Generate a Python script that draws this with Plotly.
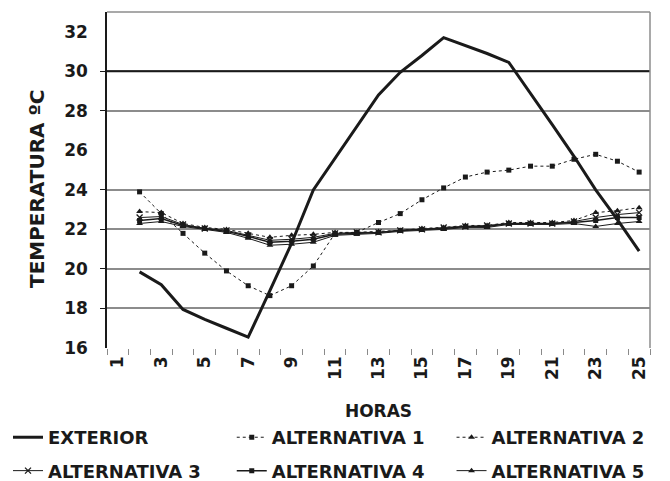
import plotly.graph_objects as go

# ---- data ----
HOURS = list(range(1, 26))
X_TICK_VALUES = list(range(1, 26, 2))
X_TICK_LABELS = [str(h) for h in X_TICK_VALUES]
Y_TICKS = list(range(16, 33, 2))
GRID_Y = [18, 20, 22, 24, 28]
LIMIT_Y = 30

EXTERIOR = [None, 19.85, 19.2, 17.95, 17.45, 17.0, 16.55, 18.9, 21.3, 24.0, 25.6, 27.25,
            28.8, 29.95, 30.8, 31.7, 31.3, 30.9, 30.45, 28.9, 27.3, 25.7, 24.0, 22.5, 20.9]
ALT1 = [None, 23.9, 22.8, 21.8, 20.8, 19.9, 19.15, 18.65, 19.15, 20.15, 21.8, 21.85,
        22.35, 22.8, 23.5, 24.1, 24.65, 24.9, 25.0, 25.2, 25.2, 25.55, 25.8, 25.45, 24.9]
ALT2 = [None, 22.9, 22.85, 22.3, 22.1, 22.0, 21.8, 21.6, 21.7, 21.75, 21.85, 21.85,
        21.9, 21.95, 22.05, 22.1, 22.2, 22.2, 22.35, 22.35, 22.35, 22.45, 22.85, 22.95, 23.1]
ALT3 = [None, 22.6, 22.65, 22.25, 22.05, 21.95, 21.7, 21.45, 21.5, 21.6, 21.8, 21.85,
        21.85, 21.95, 22.0, 22.1, 22.15, 22.2, 22.3, 22.3, 22.3, 22.4, 22.6, 22.75, 22.85]
ALT4 = [None, 22.45, 22.55, 22.2, 22.05, 21.9, 21.65, 21.35, 21.4, 21.5, 21.75, 21.8,
        21.85, 21.95, 22.0, 22.05, 22.15, 22.15, 22.3, 22.3, 22.3, 22.35, 22.45, 22.6, 22.6]
ALT5 = [None, 22.3, 22.4, 22.15, 22.0, 21.85, 21.55, 21.2, 21.25, 21.35, 21.7, 21.75,
        21.8, 21.9, 21.95, 22.0, 22.1, 22.1, 22.25, 22.25, 22.25, 22.3, 22.15, 22.3, 22.4]

Y_TITLE = "TEMPERATURA ºC"
X_TITLE = "HORAS"

FONT = "DejaVu Sans"
INK = "#1a1a1a"

fig = go.Figure()

# name, values, line, marker, legend column, rank
alt_styles = [
    ("ALTERNATIVA 1", ALT1, dict(color=INK, width=1, dash="dot"),
     dict(symbol="square", size=5, color=INK), "legend2", 2),
    ("ALTERNATIVA 2", ALT2, dict(color=INK, width=1, dash="dot"),
     dict(symbol="triangle-up", size=6, color=INK), "legend3", 3),
    ("ALTERNATIVA 3", ALT3, dict(color=INK, width=1),
     dict(symbol="x-thin", size=6, color=INK, line=dict(width=1.3, color=INK)), "legend", 4),
    ("ALTERNATIVA 4", ALT4, dict(color=INK, width=1.5),
     dict(symbol="square", size=5, color=INK), "legend2", 5),
    ("ALTERNATIVA 5", ALT5, dict(color=INK, width=1),
     dict(symbol="triangle-up", size=6, color=INK), "legend3", 6),
]
for name, vals, line, marker, leg, rank in alt_styles:
    fig.add_trace(go.Scatter(x=HOURS, y=vals, name=name, mode="lines+markers",
                             line=line, marker=marker, legend=leg, legendrank=rank,
                             legendgroup=name, connectgaps=False))

fig.add_trace(go.Scatter(x=HOURS, y=EXTERIOR, name="EXTERIOR", mode="lines",
                         line=dict(color=INK, width=3), legend="legend", legendrank=1,
                         legendgroup="EXTERIOR"))

# helper axis carrying the gridlines and the left tick marks
fig.add_trace(go.Scatter(x=[], y=[], yaxis="y2", showlegend=False, hoverinfo="skip"))

font_tick = dict(family=FONT, size=17, color=INK, weight="bold")
font_leg = dict(family=FONT, size=18, color=INK, weight="bold")


def legend_box(x):
    return dict(orientation="v", xref="container", yref="container", x=x, y=0.131,
                xanchor="left", yanchor="top", font=font_leg, tracegroupgap=7,
                bgcolor="rgba(0,0,0,0)", itemwidth=30)


fig.update_layout(
    width=662, height=473,
    margin=dict(l=99, r=20, t=4, b=133, autoexpand=False),
    paper_bgcolor="white", plot_bgcolor="white",
    showlegend=True,
    xaxis=dict(range=[0.5, 25.5], tickmode="array", tickvals=X_TICK_VALUES,
               ticktext=X_TICK_LABELS, tickangle=-90, ticks="", showgrid=False,
               zeroline=False, showline=False, tickfont=font_tick, ticklabelstandoff=4,
               minor=dict(tickmode="linear", tick0=0.5, dtick=1, ticks="outside",
                          ticklen=6, tickwidth=1, tickcolor="#8a8a8a", showgrid=False),
               title=dict(text=X_TITLE, font=font_tick, standoff=26)),
    yaxis=dict(range=[16, 33], tickmode="array", tickvals=Y_TICKS, ticks="",
               showgrid=False, zeroline=False, showline=True, linecolor=INK, linewidth=1.5,
               tickfont=font_tick, ticklabelstandoff=14),
    yaxis2=dict(range=[16, 33], overlaying="y", side="left", tickmode="array",
                tickvals=GRID_Y + [LIMIT_Y], ticks="outside", ticklen=6, tickcolor=INK,
                showticklabels=False, showgrid=True, gridcolor="#8c8c8c", gridwidth=1.5,
                zeroline=False, showline=False),
    legend=legend_box(0.0),
    legend2=legend_box(0.338),
    legend3=legend_box(0.670),
    annotations=[
        dict(text=Y_TITLE, textangle=-90, xref="paper", yref="paper", x=-0.129, y=0.476,
             xanchor="center", yanchor="middle", showarrow=False,
             font=dict(family=FONT, size=20, color=INK, weight="bold")),
    ],
    shapes=[
        dict(type="line", xref="paper", yref="y", x0=0, x1=1, y0=LIMIT_Y, y1=LIMIT_Y,
             line=dict(color=INK, width=2), layer="above"),
        dict(type="line", xref="paper", yref="paper", x0=0, x1=1, y0=1, y1=1,
             line=dict(color="#8c8c8c", width=1.5)),
        dict(type="line", xref="paper", yref="paper", x0=1, x1=1, y0=0, y1=1,
             line=dict(color="#8c8c8c", width=1.5)),
    ],
)

fig.write_html("out.html")
